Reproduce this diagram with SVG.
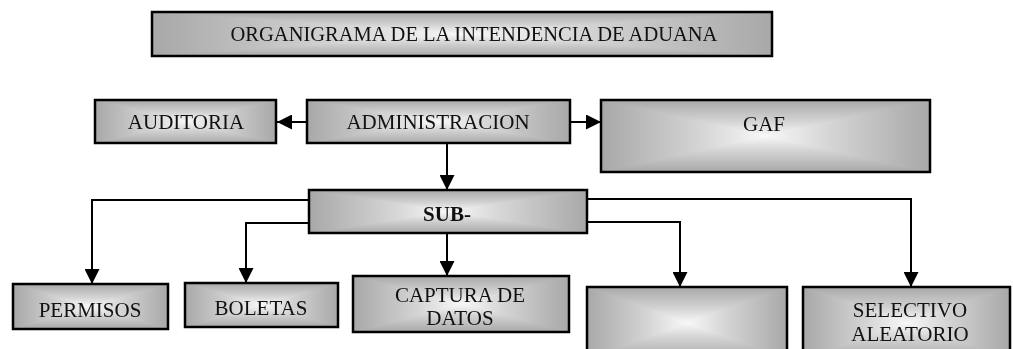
<svg xmlns="http://www.w3.org/2000/svg" width="1013" height="349" viewBox="0 0 1013 349">
<defs>
<linearGradient id="gh" x1="0" y1="0" x2="1" y2="0">
<stop offset="0" stop-color="#a8a8a8"/>
<stop offset="0.3" stop-color="#d4d4d4"/>
<stop offset="0.5" stop-color="#f8f8f8"/>
<stop offset="0.7" stop-color="#d4d4d4"/>
<stop offset="1" stop-color="#a8a8a8"/>
</linearGradient>
<linearGradient id="gv" x1="0" y1="0" x2="0" y2="1">
<stop offset="0" stop-color="#a8a8a8"/>
<stop offset="0.3" stop-color="#d4d4d4"/>
<stop offset="0.5" stop-color="#f8f8f8"/>
<stop offset="0.7" stop-color="#d4d4d4"/>
<stop offset="1" stop-color="#a8a8a8"/>
</linearGradient>
<marker id="arr" markerUnits="userSpaceOnUse" markerWidth="15" markerHeight="15" refX="15" refY="7.5" orient="auto">
<path d="M0,0 L15,7.5 L0,15 z" fill="#000"/>
</marker>
</defs>
<style>
.h{fill:url(#gh);stroke:none}
.v{fill:url(#gv);stroke:none;mix-blend-mode:darken}
.b{fill:none;stroke:#000;stroke-width:2.5}
text{font-family:"Liberation Serif","Times New Roman",serif;font-size:21px;fill:#111;text-anchor:middle}
.c{fill:none;stroke:#000;stroke-width:2;marker-end:url(#arr)}
</style>
<rect width="1013" height="349" fill="#fff"/>
<g id="title">
<rect class="h" x="152" y="12" width="620" height="44"/><rect class="v" x="152" y="12" width="620" height="44"/><rect class="b" x="152" y="12" width="620" height="44"/>
<text x="474" y="41" style="font-size:20.5px">ORGANIGRAMA DE LA INTENDENCIA DE ADUANA</text>
</g>
<g id="auditoria">
<rect class="h" x="95" y="100" width="181" height="43"/><rect class="v" x="95" y="100" width="181" height="43"/><rect class="b" x="95" y="100" width="181" height="43"/>
<text x="186" y="129">AUDITORIA</text>
</g>
<g id="administracion">
<rect class="h" x="307" y="100" width="263" height="43"/><rect class="v" x="307" y="100" width="263" height="43"/><rect class="b" x="307" y="100" width="263" height="43"/>
<text x="438" y="129">ADMINISTRACION</text>
</g>
<g id="gaf">
<rect class="h" x="601" y="100" width="329" height="72"/><rect class="v" x="601" y="100" width="329" height="72"/><rect class="b" x="601" y="100" width="329" height="72"/>
<text x="764" y="131">GAF</text>
</g>
<g id="sub">
<rect class="h" x="309" y="190" width="278" height="43"/><rect class="v" x="309" y="190" width="278" height="43"/><rect class="b" x="309" y="190" width="278" height="43"/>
<text x="447" y="221" style="font-weight:bold">SUB-</text>
</g>
<g id="permisos">
<rect class="h" x="13" y="284" width="155" height="45"/><rect class="v" x="13" y="284" width="155" height="45"/><rect class="b" x="13" y="284" width="155" height="45"/>
<text x="90" y="317">PERMISOS</text>
</g>
<g id="boletas">
<rect class="h" x="185" y="283" width="153" height="44"/><rect class="v" x="185" y="283" width="153" height="44"/><rect class="b" x="185" y="283" width="153" height="44"/>
<text x="261" y="315">BOLETAS</text>
</g>
<g id="captura">
<rect class="h" x="353" y="276" width="216" height="56"/><rect class="v" x="353" y="276" width="216" height="56"/><rect class="b" x="353" y="276" width="216" height="56"/>
<text x="460" y="302">CAPTURA DE</text>
<text x="460" y="325">DATOS</text>
</g>
<g id="blank">
<rect class="h" x="587" y="287" width="200" height="72"/><rect class="v" x="587" y="287" width="200" height="72"/><rect class="b" x="587" y="287" width="200" height="72"/>
</g>
<g id="selectivo">
<rect class="h" x="803" y="287" width="207" height="72"/><rect class="v" x="803" y="287" width="207" height="72"/><rect class="b" x="803" y="287" width="207" height="72"/>
<text x="910" y="317">SELECTIVO</text>
<text x="910" y="341">ALEATORIO</text>
</g>
<g id="connectors">
<path class="c" d="M307,122 H277"/>
<path class="c" d="M570,122 H601"/>
<path class="c" d="M447,143 V190"/>
<path class="c" d="M309,200 H92 V284"/>
<path class="c" d="M309,223 H246 V283"/>
<path class="c" d="M447,233 V276"/>
<path class="c" d="M587,222 H680 V287"/>
<path class="c" d="M587,199 H911 V287"/>
</g>
</svg>
